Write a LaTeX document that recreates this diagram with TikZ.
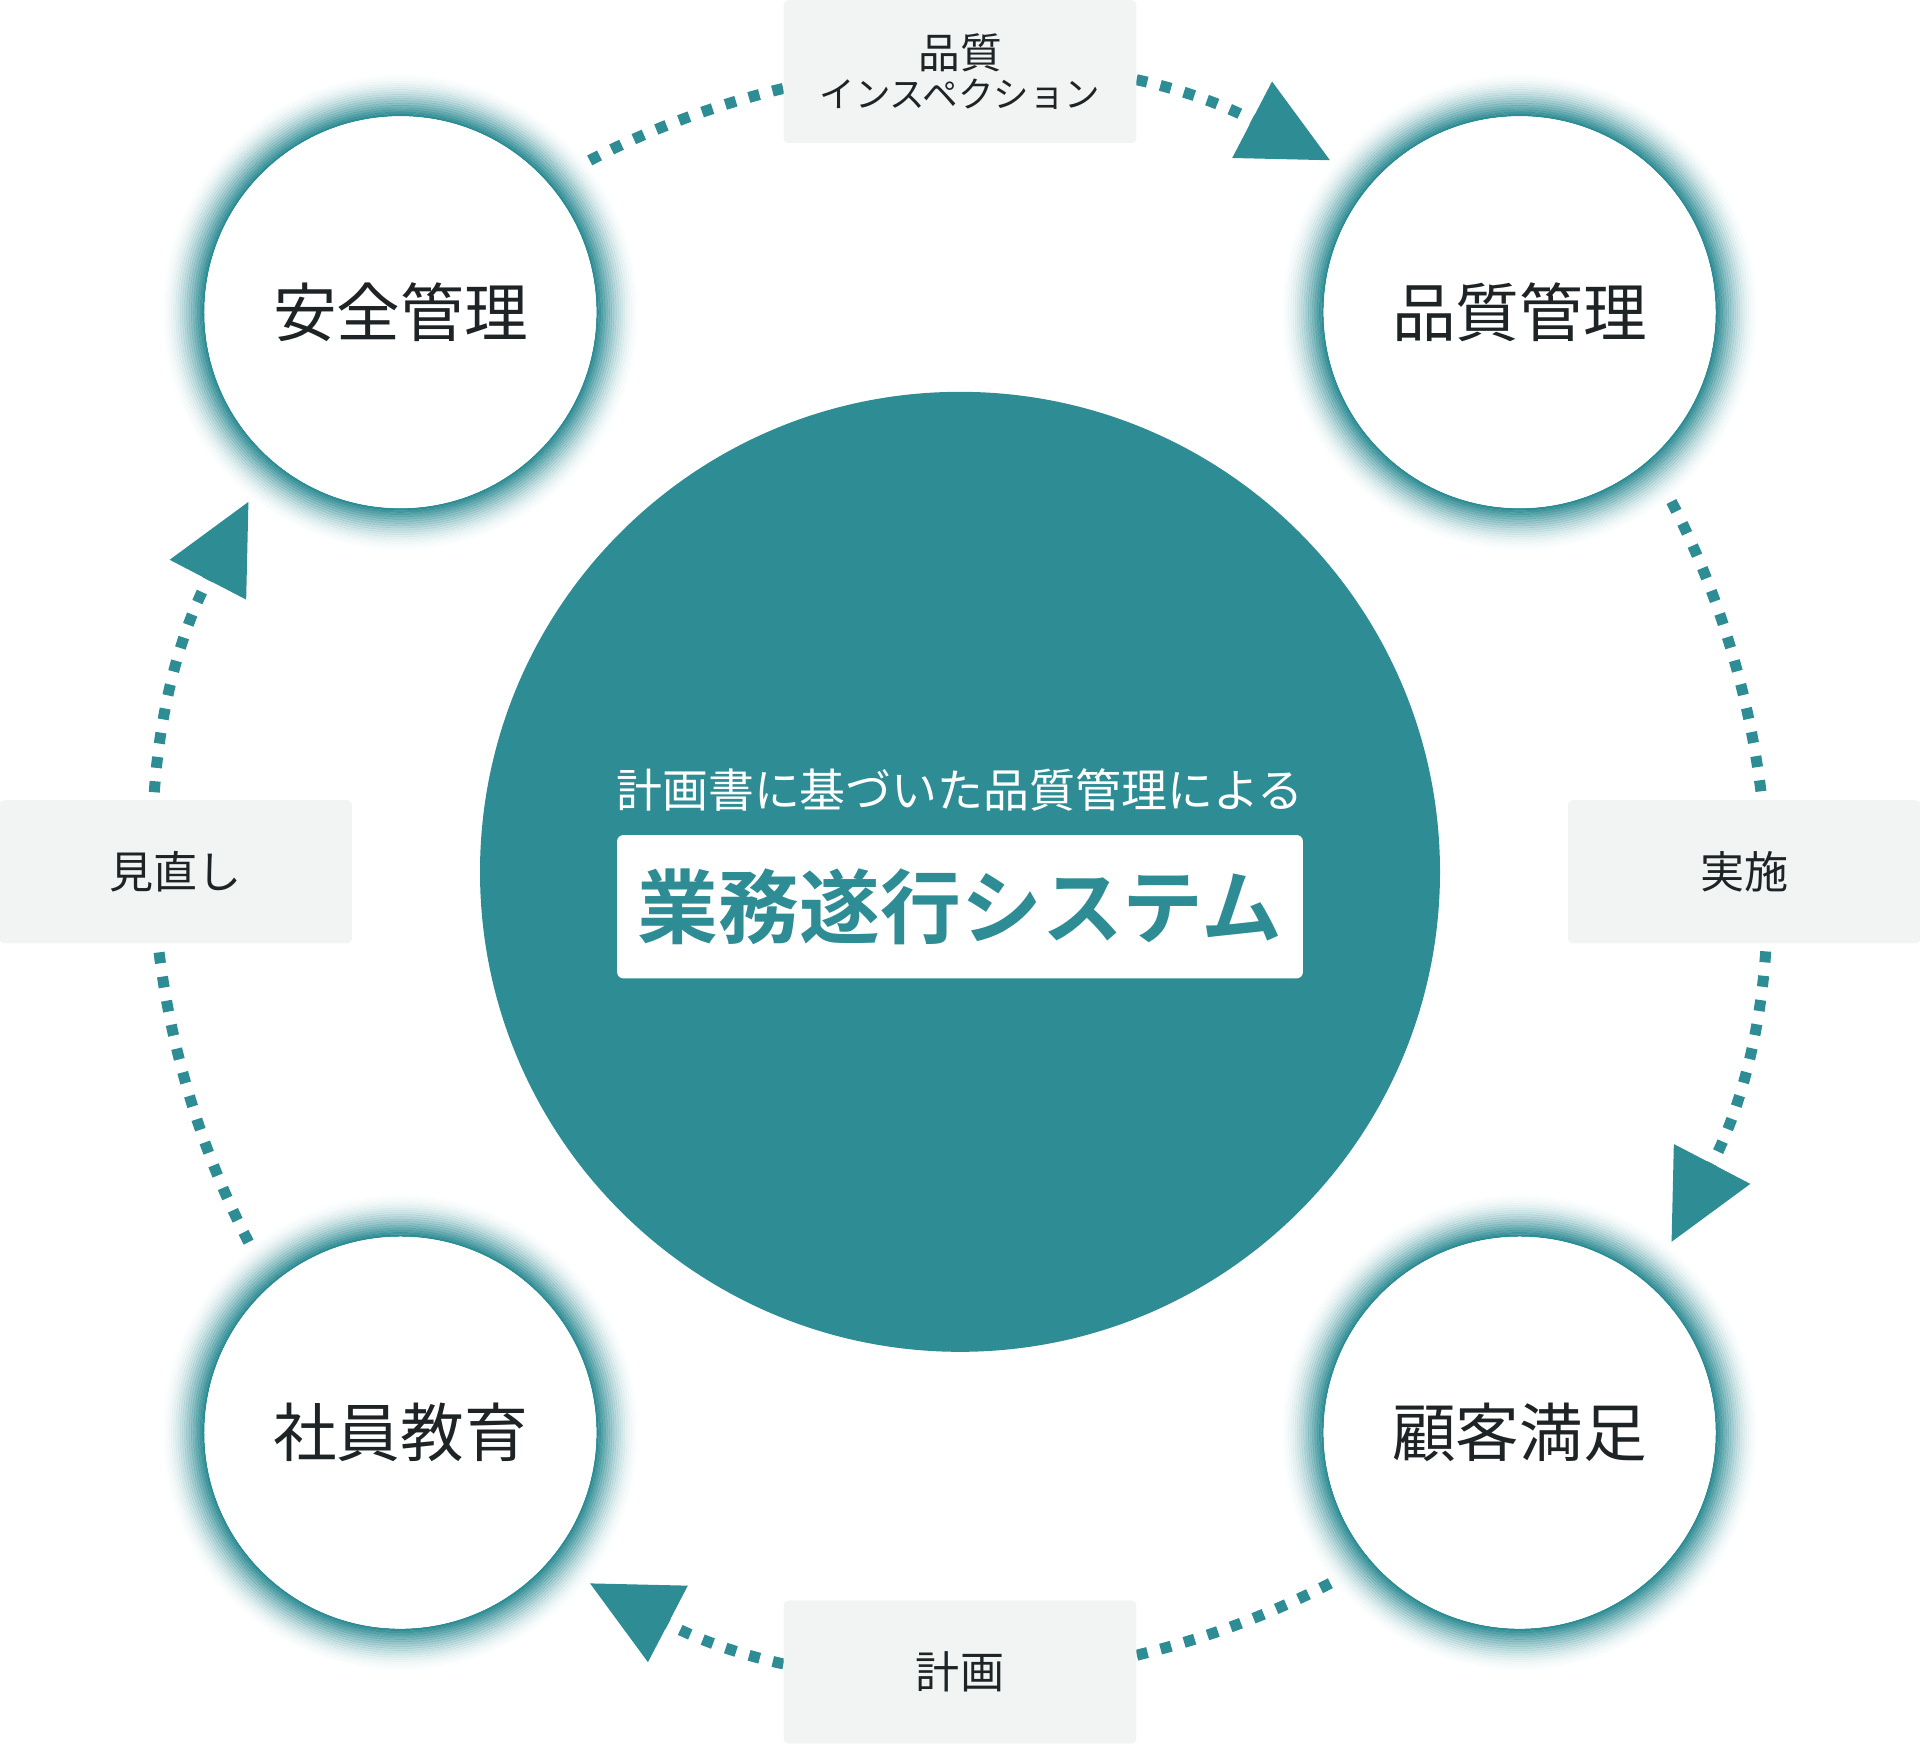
\documentclass[tikz,border=0pt]{standalone}
\usepackage{fontspec}
\setmainfont{Noto Sans CJK JP}
\newfontfamily\jpb{Noto Sans CJK JP}[BoldFont={* Bold}]
\usetikzlibrary{arrows.meta}
\definecolor{teal1}{HTML}{2E8C94}
\definecolor{lbl}{HTML}{F2F4F4}
\definecolor{txt}{HTML}{1E2326}
\tikzset{
  flow/.style={draw=teal1,line width=9pt,dash pattern=on 9pt off 11pt,-{Triangle[length=72pt,width=68pt]}},
  lblbox/.style={fill=lbl,rounded corners=4pt,minimum width=288pt,minimum height=117pt,inner sep=0pt,text=txt},
}
\begin{document}
\begin{tikzpicture}[x=1pt,y=1pt]
\useasboundingbox (0,0) rectangle (1568,1424);
\coordinate (C) at (784,712);
% arcs
\draw[flow] ([shift={(117.5:655)}]C) arc[start angle=117.5,end angle=62.5,radius=655];
\draw[flow] ([shift={(27.5:655)}]C) arc[start angle=27.5,end angle=-27.5,radius=655];
\draw[flow] ([shift={(-62.5:655)}]C) arc[start angle=-62.5,end angle=-117.5,radius=655];
\draw[flow] ([shift={(-152.5:655)}]C) arc[start angle=-152.5,end angle=-207.5,radius=655];
% labels
\node[lblbox,align=center] (lt) at (784,1365.5) {\fontsize{34}{40}\selectfont 品質\\[4pt]\fontsize{29}{36}\selectfont インスペクション};
\node[lblbox,font=\fontsize{36}{44}\selectfont] (lr) at (1424.5,712) {実施};
\node[lblbox,font=\fontsize{36}{44}\selectfont] (lb) at (784,58.5) {計画};
\node[lblbox,font=\fontsize{36}{44}\selectfont] (ll) at (143.5,712) {見直し};
% center
\fill[teal1] (C) circle[radius=392];
\node[text=white,font=\fontsize{37.5}{44}\selectfont] (sub) at (784,779) {計画書に基づいた品質管理による};
\node[fill=white,rounded corners=5pt,minimum width=560pt,minimum height=117pt,inner sep=0pt,text=teal1,font=\jpb\bfseries\fontsize{66}{72}\selectfont] (main) at (784,683.5) {業務遂行システム};
% four circles
\foreach \n/\x/\y/\t in {a/327/1169/安全管理, b/1241/1169/品質管理, c/327/254/社員教育, d/1241/254/顧客満足}{
  \foreach \i in {0,...,19}{
    \pgfmathsetmacro\op{(1-\i/20)^2}
    \draw[teal1,line width=2pt,opacity=\op] (\x,\y) circle[radius=161+\i*1.8];
  }
  \node[circle,fill=white,minimum size=320pt,inner sep=0pt,text=txt,font=\fontsize{52}{60}\selectfont] (\n) at (\x,\y) {\t};
}
\end{tikzpicture}
\end{document}
